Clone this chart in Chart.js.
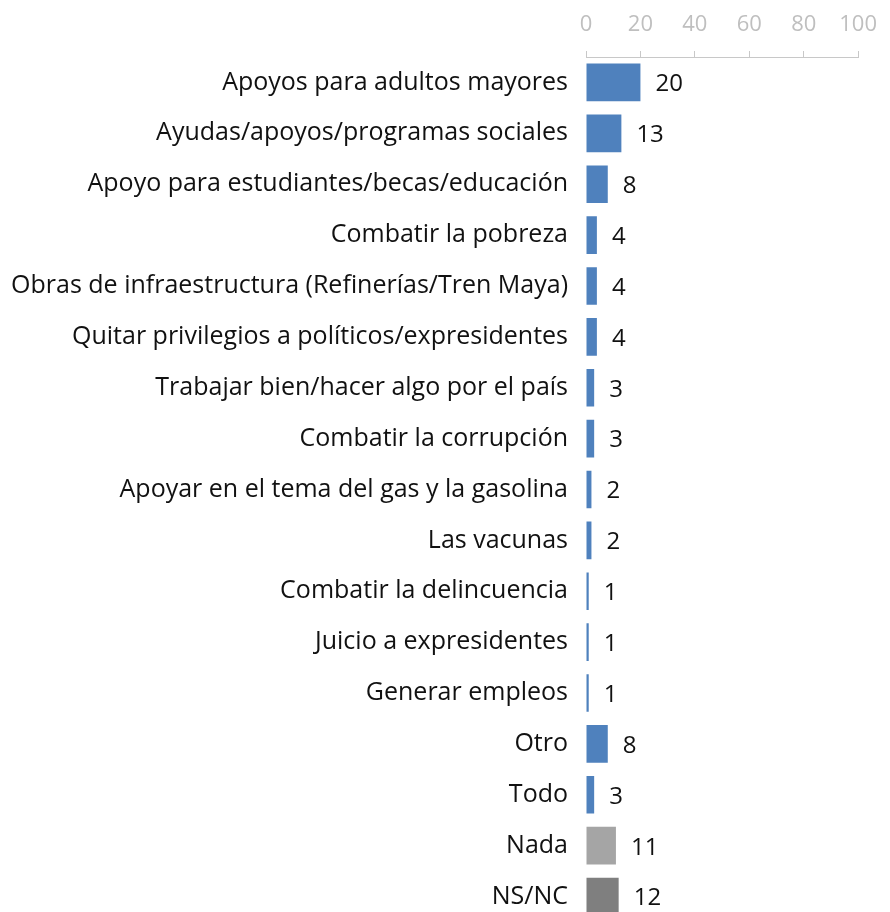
<!DOCTYPE html>
<html>
<head>
<meta charset="utf-8">
<script src="https://cdn.jsdelivr.net/npm/chart.js@4.4.0/dist/chart.umd.min.js"></script>
<style>
  html, body { margin: 0; padding: 0; background: #fff; overflow: hidden; }
  canvas { display: block; }
</style>
</head>
<body>
<canvas id="chart" width="890" height="922"></canvas>
<script>
// Chart data
const categories = [
  'Apoyos para adultos mayores',
  'Ayudas/apoyos/programas sociales',
  'Apoyo para estudiantes/becas/educación',
  'Combatir la pobreza',
  'Obras de infraestructura (Refinerías/Tren Maya)',
  'Quitar privilegios a políticos/expresidentes',
  'Trabajar bien/hacer algo por el país',
  'Combatir la corrupción',
  'Apoyar en el tema del gas y la gasolina',
  'Las vacunas',
  'Combatir la delincuencia',
  'Juicio a expresidentes',
  'Generar empleos',
  'Otro',
  'Todo',
  'Nada',
  'NS/NC'
];
const values = [20, 13, 8, 4, 4, 4, 3, 3, 2, 2, 1, 1, 1, 8, 3, 11, 12];
const xTicks = [0, 20, 40, 60, 80, 100];

const BLUE = '#4f81bd';
const barColors = categories.map(c => c === 'Nada' ? '#a5a5a5' : (c === 'NS/NC' ? '#7f7f7f' : BLUE));

const FONT = '"Open Sans", "Noto Sans", sans-serif';

// Draw the value next to each bar
const valueLabels = {
  id: 'valueLabels',
  afterDatasetsDraw(chart) {
    const ctx = chart.ctx;
    const meta = chart.getDatasetMeta(0);
    ctx.save();
    ctx.font = '24px ' + FONT;
    ctx.fillStyle = '#111';
    ctx.textAlign = 'left';
    ctx.textBaseline = 'middle';
    meta.data.forEach((bar, i) => {
      ctx.fillText(String(values[i]), bar.x + 15, bar.y + 2);
    });
    ctx.restore();
  }
};

new Chart(document.getElementById('chart'), {
  type: 'bar',
  data: {
    labels: categories,
    datasets: [{
      data: values,
      backgroundColor: barColors,
      borderWidth: 0,
      barPercentage: 0.74,
      categoryPercentage: 1
    }]
  },
  options: {
    indexAxis: 'y',
    responsive: false,
    animation: false,
    layout: { padding: { left: 0, right: 23, top: 0, bottom: 0 } },
    plugins: {
      legend: { display: false },
      tooltip: { enabled: false }
    },
    scales: {
      x: {
        position: 'top',
        min: 0,
        max: 100,
        afterBuildTicks(scale) {
          scale.ticks = xTicks.map(v => ({ value: v }));
        },
        afterFit(scale) { scale.height = 57; },
        border: { display: true, color: '#c8c8c8', width: 1 },
        grid: {
          drawOnChartArea: false,
          drawTicks: true,
          tickLength: 6,
          color: '#c8c8c8'
        },
        ticks: {
          color: '#bfbfbf',
          font: { family: FONT, size: 22 },
          padding: 13,
          maxRotation: 0
        }
      },
      y: {
        afterFit(scale) {
          scale.width = 586;
          // no extra room for the first/last label
          scale.paddingTop = 0;
          scale.paddingBottom = 0;
        },
        border: { display: false },
        grid: { display: false, drawTicks: false },
        ticks: {
          color: '#111',
          font: { family: FONT, size: 25 },
          padding: 18,
          autoSkip: false
        }
      }
    }
  },
  plugins: [valueLabels]
});
</script>
</body>
</html>
